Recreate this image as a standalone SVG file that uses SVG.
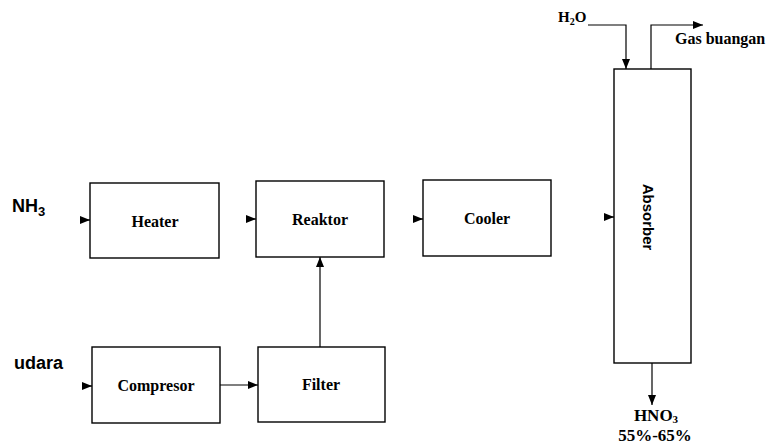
<svg xmlns="http://www.w3.org/2000/svg" width="770" height="444" viewBox="0 0 770 444">
<defs>
<marker id="ah" markerWidth="10" markerHeight="8" refX="10" refY="4" orient="auto" markerUnits="userSpaceOnUse">
<path d="M0,0 L10,4 L0,8 Z" fill="#000"/>
</marker>
<style>
.box{fill:#fff;stroke:#000;stroke-width:1.4}
.ln{fill:none;stroke:#000;stroke-width:1.2}
.lbl{font-family:"Liberation Serif",serif;font-weight:bold;font-size:16px;text-anchor:middle;fill:#000}
.big{font-family:"Liberation Sans",Arial,sans-serif;font-weight:bold;font-size:18px;fill:#000}
.ser{font-family:"Liberation Serif",serif;font-weight:bold;font-size:16px;fill:#000}
</style>
</defs>
<g id="connectors">
<path class="ln" d="M80,220 L90,220" marker-end="url(#ah)"/>
<path class="ln" d="M246,219 L256,219" marker-end="url(#ah)"/>
<path class="ln" d="M413,219 L423,219" marker-end="url(#ah)"/>
<path class="ln" d="M604,217 L614,217" marker-end="url(#ah)"/>
<path class="ln" d="M82,386 L92,386" marker-end="url(#ah)"/>
<path class="ln" d="M220,385 L258,385" marker-end="url(#ah)"/>
<path class="ln" d="M320,347 L320,257" marker-end="url(#ah)"/>
<path class="ln" d="M588,25 L626,25 L626,69" marker-end="url(#ah)"/>
<path class="ln" d="M651,69 L651,25 L703,25" marker-end="url(#ah)"/>
<path class="ln" d="M652,363 L652,405" marker-end="url(#ah)"/>
</g>
<g id="heater"><rect class="box" x="90" y="183" width="129" height="75"/><text class="lbl" x="155" y="227">Heater</text></g>
<g id="reaktor"><rect class="box" x="256" y="181" width="128" height="76"/><text class="lbl" x="320" y="225">Reaktor</text></g>
<g id="cooler"><rect class="box" x="423" y="180" width="128" height="76"/><text class="lbl" x="487" y="224">Cooler</text></g>
<g id="compresor"><rect class="box" x="92" y="347" width="128" height="76"/><text class="lbl" x="156" y="391">Compresor</text></g>
<g id="filter"><rect class="box" x="258" y="347" width="127" height="75"/><text class="lbl" x="321" y="390">Filter</text></g>
<g id="absorber"><rect class="box" x="614" y="69" width="77" height="294"/><text class="lbl" transform="translate(643,217) rotate(90)" x="0" y="0" style="font-family:'Liberation Sans',Arial,sans-serif;font-size:15px">Absorber</text></g>
<g id="labels">
<text class="big" x="12" y="212">NH<tspan font-size="13" dy="4">3</tspan></text>
<text class="big" x="14" y="369">udara</text>
<text class="ser" x="558" y="22" style="font-size:15px">H<tspan font-size="10" dy="3">2</tspan><tspan dy="-3">O</tspan></text>
<text class="ser" x="675" y="44">Gas buangan</text>
<text class="lbl" x="656" y="421" style="font-size:17px">HNO<tspan font-size="11" dy="2">3</tspan></text>
<text class="lbl" x="655" y="441" style="font-size:17px">55%-65%</text>
</g>
</svg>
